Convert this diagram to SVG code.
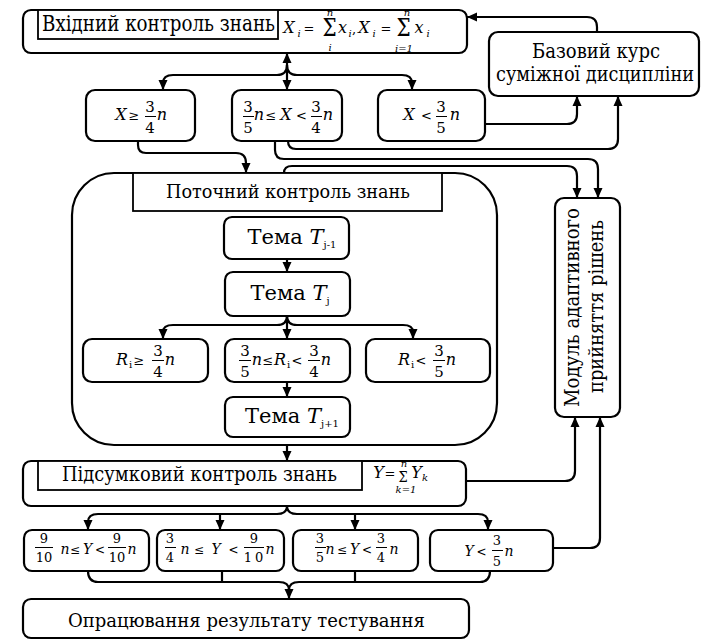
<svg xmlns="http://www.w3.org/2000/svg" width="708" height="644" viewBox="0 0 708 644" font-family="DejaVu Serif">
<style>
text{fill:#000}
.box{fill:#fff;stroke:#000;stroke-width:2.2}
.lbl{fill:#fff;stroke:#000;stroke-width:1.8}
.t{font-size:21px}
.mi{font-style:italic;font-size:16px;text-anchor:middle}
.op{font-size:13px;text-anchor:middle}
.fn{font-size:15px;text-anchor:middle}
.ms{font-style:italic;font-size:14px;text-anchor:middle}
.os{font-size:12px;text-anchor:middle}
.fs{font-size:13px;text-anchor:middle}
.sub{font-size:10px;text-anchor:middle}
.subi{font-style:italic;font-size:10px;text-anchor:middle}
.bar{stroke:#000;stroke-width:1}
.c{fill:none;stroke:#000;stroke-width:2.2}
.a{marker-end:url(#ah)}
</style>
<defs>
<marker id="ah" viewBox="0 0 10 10" refX="10" refY="5" markerWidth="10" markerHeight="10" markerUnits="userSpaceOnUse" orient="auto-start-reverse">
<path d="M0,0.5 L10,5 L0,9.5 z" fill="#000"/>
</marker>
</defs>
<rect width="708" height="644" fill="#fff"/>

<g id="potochnyi">
<rect class="box" x="72" y="173" width="425" height="272" rx="42"/>
<rect class="lbl" x="133" y="173" width="309" height="38"/>
<text font-family="DejaVu Serif" x="166" y="198" font-size="19" textLength="244" lengthAdjust="spacingAndGlyphs">Поточний контроль знань</text>
</g>

<g id="vkhidnyi">
<rect class="box" x="23" y="10" width="444" height="43" rx="8"/>
<rect class="lbl" x="38" y="10" width="240" height="29"/>
<text font-family="DejaVu Serif" x="42" y="31" font-size="22" textLength="233" lengthAdjust="spacingAndGlyphs">Вхідний контроль знань</text>
<text font-family="DejaVu Serif" class="mi" x="289" y="33" font-size="17">X</text><text font-family="DejaVu Serif" class="subi" x="299" y="37">i</text>
<text font-family="DejaVu Serif" class="op" x="309" y="33" font-size="15">=</text>
<text font-family="DejaVu Serif" font-size="20" text-anchor="middle" transform="translate(329.5,36) scale(1,1.2)">Σ</text>
<text font-family="DejaVu Serif" class="subi" x="330" y="16" font-size="9">n</text>
<text font-family="DejaVu Serif" class="subi" x="330" y="51" font-size="9">i</text>
<text font-family="DejaVu Serif" class="mi" x="342.5" y="33" font-size="17">x</text><text font-family="DejaVu Serif" class="subi" x="350" y="37">i</text>
<text font-family="DejaVu Serif" class="op" x="354" y="33" font-size="15">,</text>
<text font-family="DejaVu Serif" class="mi" x="364" y="33" font-size="17">X</text><text font-family="DejaVu Serif" class="subi" x="374" y="37">i</text>
<text font-family="DejaVu Serif" class="op" x="386" y="33" font-size="15">=</text>
<text font-family="DejaVu Serif" font-size="20" text-anchor="middle" transform="translate(403.5,36) scale(1,1.2)">Σ</text>
<text font-family="DejaVu Serif" class="subi" x="407" y="16" font-size="9">n</text>
<text font-family="DejaVu Serif" class="subi" x="404" y="52" font-size="9">i=1</text>
<text font-family="DejaVu Serif" class="mi" x="419" y="33" font-size="17">x</text><text font-family="DejaVu Serif" class="subi" x="428" y="37">i</text>
</g>

<g id="bazovyi">
<rect class="box" x="489" y="32" width="210" height="64" rx="9"/>
<text font-family="DejaVu Serif" x="532" y="58" font-size="20" textLength="128" lengthAdjust="spacingAndGlyphs">Базовий курс</text>
<text font-family="DejaVu Serif" x="496" y="81" font-size="20" textLength="198" lengthAdjust="spacingAndGlyphs">суміжної дисципліни</text>
</g>

<g id="x1">
<rect class="box" x="86" y="90" width="109" height="51" rx="9"/>
<text font-family="DejaVu Serif" class="mi" x="121" y="120">X</text>
<text font-family="DejaVu Serif" class="op" x="134" y="120">≥</text>
<text font-family="DejaVu Serif" class="fn" x="150" y="112">3</text><line class="bar" x1="145" y1="116.5" x2="156" y2="116.5"/><text font-family="DejaVu Serif" class="fn" x="150" y="133">4</text>
<text font-family="DejaVu Serif" class="mi" x="162" y="120">n</text>
</g>
<g id="x2">
<rect class="box" x="232" y="90" width="110" height="51" rx="9"/>
<text font-family="DejaVu Serif" class="fn" x="248" y="112">3</text><line class="bar" x1="243" y1="116.5" x2="254" y2="116.5"/><text font-family="DejaVu Serif" class="fn" x="248" y="133">5</text>
<text font-family="DejaVu Serif" class="mi" x="259" y="120">n</text>
<text font-family="DejaVu Serif" class="op" x="271" y="120">≤</text>
<text font-family="DejaVu Serif" class="mi" x="286" y="120">X</text>
<text font-family="DejaVu Serif" class="op" x="301.5" y="120">&lt;</text>
<text font-family="DejaVu Serif" class="fn" x="316" y="112">3</text><line class="bar" x1="311" y1="116.5" x2="322" y2="116.5"/><text font-family="DejaVu Serif" class="fn" x="316" y="133">4</text>
<text font-family="DejaVu Serif" class="mi" x="328" y="120">n</text>
</g>
<g id="x3">
<rect class="box" x="378" y="90" width="107" height="51" rx="9"/>
<text font-family="DejaVu Serif" class="mi" x="409" y="120">X</text>
<text font-family="DejaVu Serif" class="op" x="426.5" y="120">&lt;</text>
<text font-family="DejaVu Serif" class="fn" x="441" y="112">3</text><line class="bar" x1="436" y1="116.5" x2="447" y2="116.5"/><text font-family="DejaVu Serif" class="fn" x="441" y="133">5</text>
<text font-family="DejaVu Serif" class="mi" x="455" y="120">n</text>
</g>

<g id="tema-prev">
<rect class="box" x="224" y="217" width="125" height="42" rx="8"/>
<text font-family="DejaVu Serif" class="t" x="292" y="244" text-anchor="middle" font-size="20">Тема <tspan font-style="italic">T</tspan><tspan font-size="10" dy="4">j-1</tspan></text>
</g>
<g id="tema-cur">
<rect class="box" x="225" y="272" width="125" height="44" rx="8"/>
<text font-family="DejaVu Serif" class="t" x="290" y="300" text-anchor="middle" font-size="20">Тема <tspan font-style="italic">T</tspan><tspan font-size="10" dy="4">j</tspan></text>
</g>

<g id="r1">
<rect class="box" x="83" y="339" width="125" height="43" rx="9"/>
<text font-family="DejaVu Serif" class="mi" x="122" y="365">R</text><text font-family="DejaVu Serif" class="sub" x="130.5" y="368">i</text>
<text font-family="DejaVu Serif" class="op" x="139" y="365">≥</text>
<text font-family="DejaVu Serif" class="fn" x="158" y="356">3</text><line class="bar" x1="152" y1="360.5" x2="164" y2="360.5"/><text font-family="DejaVu Serif" class="fn" x="158" y="377">4</text>
<text font-family="DejaVu Serif" class="mi" x="170" y="365">n</text>
</g>
<g id="r2">
<rect class="box" x="225" y="339" width="125" height="43" rx="9"/>
<text font-family="DejaVu Serif" class="fn" x="245" y="356">3</text><line class="bar" x1="239" y1="360.5" x2="251" y2="360.5"/><text font-family="DejaVu Serif" class="fn" x="245" y="377">5</text>
<text font-family="DejaVu Serif" class="mi" x="257" y="365">n</text>
<text font-family="DejaVu Serif" class="op" x="268" y="365">≤</text>
<text font-family="DejaVu Serif" class="mi" x="280" y="365">R</text><text font-family="DejaVu Serif" class="sub" x="288.5" y="368">i</text>
<text font-family="DejaVu Serif" class="op" x="297" y="365">&lt;</text>
<text font-family="DejaVu Serif" class="fn" x="314" y="356">3</text><line class="bar" x1="308" y1="360.5" x2="320" y2="360.5"/><text font-family="DejaVu Serif" class="fn" x="314" y="377">4</text>
<text font-family="DejaVu Serif" class="mi" x="326" y="365">n</text>
</g>
<g id="r3">
<rect class="box" x="366" y="339" width="124" height="43" rx="9"/>
<text font-family="DejaVu Serif" class="mi" x="404" y="365">R</text><text font-family="DejaVu Serif" class="sub" x="412.5" y="368">i</text>
<text font-family="DejaVu Serif" class="op" x="421" y="365">&lt;</text>
<text font-family="DejaVu Serif" class="fn" x="439" y="356">3</text><line class="bar" x1="433" y1="360.5" x2="445" y2="360.5"/><text font-family="DejaVu Serif" class="fn" x="439" y="377">5</text>
<text font-family="DejaVu Serif" class="mi" x="451" y="365">n</text>
</g>

<g id="tema-next">
<rect class="box" x="225" y="397" width="125" height="40" rx="8"/>
<text font-family="DejaVu Serif" class="t" x="292" y="423" text-anchor="middle" font-size="20">Тема <tspan font-style="italic">T</tspan><tspan font-size="10" dy="4">j+1</tspan></text>
</g>

<g id="modul">
<rect class="box" x="555" y="198" width="65" height="219" rx="9"/>
<text font-family="DejaVu Serif" transform="translate(579,407) rotate(-90)" font-size="20" textLength="199" lengthAdjust="spacingAndGlyphs">Модуль адаптивного</text>
<text font-family="DejaVu Serif" transform="translate(603,393) rotate(-90)" font-size="20" textLength="173" lengthAdjust="spacingAndGlyphs">прийняття рішень</text>
</g>

<g id="pidsumkovyi">
<rect class="box" x="23" y="461" width="443" height="45" rx="8"/>
<rect class="lbl" x="38" y="461" width="324" height="29"/>
<text font-family="DejaVu Serif" x="62" y="481" font-size="21" textLength="275" lengthAdjust="spacingAndGlyphs">Підсумковий контроль знань</text>
<text font-family="DejaVu Serif" class="mi" x="378.5" y="478" font-size="12">Y</text>
<text font-family="DejaVu Serif" class="op" x="390" y="478" font-size="11">=</text>
<text font-family="DejaVu Serif" font-size="13" text-anchor="middle" transform="translate(403,482) scale(1,1.2)">Σ</text>
<text font-family="DejaVu Serif" class="subi" x="404" y="467" font-size="7">n</text>
<text font-family="DejaVu Serif" class="subi" x="406" y="493" font-size="7">k=1</text>
<text font-family="DejaVu Serif" class="mi" x="416.5" y="478" font-size="12">Y</text><text font-family="DejaVu Serif" class="subi" x="425" y="481" font-size="8">k</text>
</g>

<g id="y1">
<rect class="box" x="24" y="530" width="125" height="41" rx="8"/>
<text font-family="DejaVu Serif" class="fs" x="44" y="543">9</text><line class="bar" x1="35" y1="547.5" x2="53" y2="547.5"/><text font-family="DejaVu Serif" class="fs" x="44" y="562">10</text>
<text font-family="DejaVu Serif" class="ms" x="65" y="554">n</text>
<text font-family="DejaVu Serif" class="os" x="75" y="554">≤</text>
<text font-family="DejaVu Serif" class="ms" x="87.5" y="554">Y</text>
<text font-family="DejaVu Serif" class="os" x="100" y="554">&lt;</text>
<text font-family="DejaVu Serif" class="fs" x="117" y="543">9</text><line class="bar" x1="108" y1="547.5" x2="126" y2="547.5"/><text font-family="DejaVu Serif" class="fs" x="117" y="562">10</text>
<text font-family="DejaVu Serif" class="ms" x="132" y="554">n</text>
</g>
<g id="y2">
<rect class="box" x="157" y="530" width="127" height="41" rx="8"/>
<text font-family="DejaVu Serif" class="fs" x="170" y="543">3</text><line class="bar" x1="165" y1="547.5" x2="176" y2="547.5"/><text font-family="DejaVu Serif" class="fs" x="170" y="562">4</text>
<text font-family="DejaVu Serif" class="ms" x="185" y="554">n</text>
<text font-family="DejaVu Serif" class="os" x="199" y="554">≤</text>
<text font-family="DejaVu Serif" class="ms" x="216" y="554">Y</text>
<text font-family="DejaVu Serif" class="os" x="233.5" y="554">&lt;</text>
<text font-family="DejaVu Serif" class="fs" x="254" y="543">9</text><line class="bar" x1="244" y1="547.5" x2="264" y2="547.5"/><text font-family="DejaVu Serif" class="fs" x="255" y="562" letter-spacing="3">10</text>
<text font-family="DejaVu Serif" class="ms" x="270" y="554">n</text>
</g>
<g id="y3">
<rect class="box" x="293" y="530" width="125" height="41" rx="8"/>
<text font-family="DejaVu Serif" class="fs" x="320" y="543">3</text><line class="bar" x1="315" y1="547.5" x2="326" y2="547.5"/><text font-family="DejaVu Serif" class="fs" x="320" y="562">5</text>
<text font-family="DejaVu Serif" class="ms" x="330" y="554">n</text>
<text font-family="DejaVu Serif" class="os" x="342" y="554">≤</text>
<text font-family="DejaVu Serif" class="ms" x="354.5" y="554">Y</text>
<text font-family="DejaVu Serif" class="os" x="367" y="554">&lt;</text>
<text font-family="DejaVu Serif" class="fs" x="381" y="543">3</text><line class="bar" x1="376" y1="547.5" x2="387" y2="547.5"/><text font-family="DejaVu Serif" class="fs" x="381" y="562">4</text>
<text font-family="DejaVu Serif" class="ms" x="394" y="554">n</text>
</g>
<g id="y4">
<rect class="box" x="430" y="530" width="123" height="41" rx="8"/>
<text font-family="DejaVu Serif" class="ms" x="469" y="556">Y</text>
<text font-family="DejaVu Serif" class="os" x="481.5" y="556">&lt;</text>
<text font-family="DejaVu Serif" class="fs" x="497" y="545">3</text><line class="bar" x1="492" y1="550.5" x2="503" y2="550.5"/><text font-family="DejaVu Serif" class="fs" x="497" y="566">5</text>
<text font-family="DejaVu Serif" class="ms" x="509" y="556">n</text>
</g>

<g id="opratsiuvannia">
<rect class="box" x="23" y="599" width="446" height="39" rx="8"/>
<text font-family="DejaVu Serif" x="68" y="627" font-size="19" textLength="357" lengthAdjust="spacingAndGlyphs">Опрацювання результату тестування</text>
</g>

<g id="connectors">
<path class="c a" d="M287,90 L287,53" marker-start="url(#ah)"/>
<path class="c a" d="M287,65 Q287,75 277,75 L173,75 Q163,75 163,83 L163,90"/>
<path class="c a" d="M287,65 Q287,75 297,75 L402,75 Q412,75 412,83 L412,90"/>
<path class="c a" d="M597,32 L597,27 Q597,17 587,17 L467,17"/>
<path class="c a" d="M485,124 L567,124 Q577,124 577,114 L577,96"/>
<path class="c a" d="M288,141 Q288,149 296,149 L608,149 Q618,149 618,139 L618,96"/>
<path class="c a" d="M275,141 L275,150 Q275,159 284,159 L588,159 Q598,159 598,169 L598,198"/>
<path class="c a" d="M284,173 Q284,166 292,166 L567,166 Q577,166 577,176 L577,198"/>
<path class="c a" d="M138,141 L138,145 Q138,153 146,153 L236,153 Q246,153 246,163 L246,173"/>
<path class="c a" d="M287,259 L287,272"/>
<path class="c a" d="M287,316 L287,339"/>
<path class="c a" d="M287,316 Q287,325 297,325 L403,325 Q413,325 413,332 L413,339"/>
<path class="c a" d="M287,316 Q287,325 277,325 L173,325 Q163,325 163,332 L163,339"/>
<path class="c a" d="M287,382 L287,397"/>
<path class="c a" d="M287,445 L287,461"/>
<path class="c a" d="M466,481 L565,481 Q575,481 575,471 L575,417"/>
<path class="c a" d="M553,548 L590,548 Q600,548 600,538 L600,417"/>
<path class="c a" d="M287,506 Q287,514 297,514 L478,514 Q488,514 488,522 L488,530"/>
<path class="c a" d="M287,506 Q287,514 277,514 L98,514 Q88,514 88,522 L88,530"/>
<path class="c a" d="M220,514 L220,530"/>
<path class="c a" d="M355,514 L355,530"/>
<path class="c a" d="M88,571 Q88,582 98,582 L279,582 Q289,582 289,590 L289,599"/>
<path class="c" d="M490,571 Q490,582 480,582 L299,582 Q289,582 289,590"/>
<path class="c" d="M222,571 L222,582"/>
<path class="c" d="M355,571 L355,582"/>
</g>
</svg>
